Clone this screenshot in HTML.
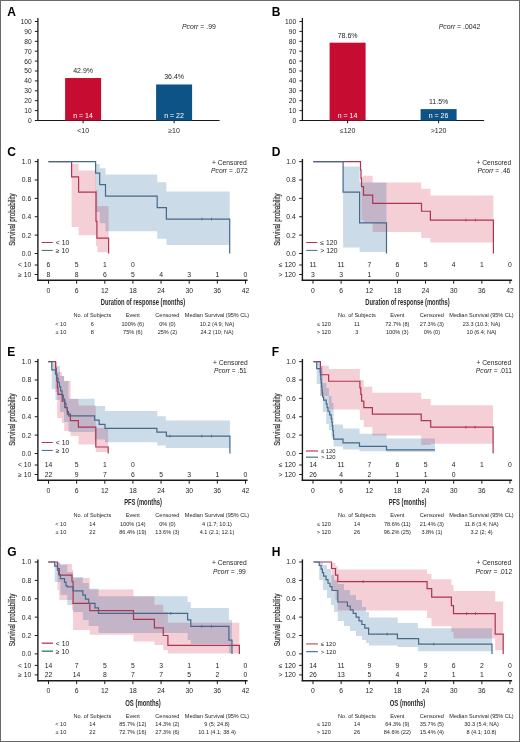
<!DOCTYPE html>
<html><head><meta charset="utf-8"><style>
html,body{margin:0;padding:0;background:#fff;}
svg{display:block;will-change:transform;}
text{font-family:"Liberation Sans", sans-serif;}
</style></head><body>
<svg width="520" height="742" viewBox="0 0 520 742">
<rect x="0" y="0" width="520" height="742" fill="#fff"/>
<text x="7.30" y="15.90" font-size="12" text-anchor="start" font-weight="bold" font-style="normal" fill="#000" >A</text>
<line x1="37.90" y1="18.00" x2="37.90" y2="121.10" stroke="#1a1a1a" stroke-width="1.3"/>
<line x1="34.90" y1="120.50" x2="37.90" y2="120.50" stroke="#1a1a1a" stroke-width="1.0"/>
<text x="31.70" y="122.90" font-size="6.7" text-anchor="end" font-weight="normal" font-style="normal" fill="#1e1e1e" >0</text>
<line x1="34.90" y1="110.60" x2="37.90" y2="110.60" stroke="#1a1a1a" stroke-width="1.0"/>
<text x="31.70" y="113.00" font-size="6.7" text-anchor="end" font-weight="normal" font-style="normal" fill="#1e1e1e" >10</text>
<line x1="34.90" y1="100.70" x2="37.90" y2="100.70" stroke="#1a1a1a" stroke-width="1.0"/>
<text x="31.70" y="103.10" font-size="6.7" text-anchor="end" font-weight="normal" font-style="normal" fill="#1e1e1e" >20</text>
<line x1="34.90" y1="90.80" x2="37.90" y2="90.80" stroke="#1a1a1a" stroke-width="1.0"/>
<text x="31.70" y="93.20" font-size="6.7" text-anchor="end" font-weight="normal" font-style="normal" fill="#1e1e1e" >30</text>
<line x1="34.90" y1="80.90" x2="37.90" y2="80.90" stroke="#1a1a1a" stroke-width="1.0"/>
<text x="31.70" y="83.30" font-size="6.7" text-anchor="end" font-weight="normal" font-style="normal" fill="#1e1e1e" >40</text>
<line x1="34.90" y1="71.00" x2="37.90" y2="71.00" stroke="#1a1a1a" stroke-width="1.0"/>
<text x="31.70" y="73.40" font-size="6.7" text-anchor="end" font-weight="normal" font-style="normal" fill="#1e1e1e" >50</text>
<line x1="34.90" y1="61.10" x2="37.90" y2="61.10" stroke="#1a1a1a" stroke-width="1.0"/>
<text x="31.70" y="63.50" font-size="6.7" text-anchor="end" font-weight="normal" font-style="normal" fill="#1e1e1e" >60</text>
<line x1="34.90" y1="51.20" x2="37.90" y2="51.20" stroke="#1a1a1a" stroke-width="1.0"/>
<text x="31.70" y="53.60" font-size="6.7" text-anchor="end" font-weight="normal" font-style="normal" fill="#1e1e1e" >70</text>
<line x1="34.90" y1="41.30" x2="37.90" y2="41.30" stroke="#1a1a1a" stroke-width="1.0"/>
<text x="31.70" y="43.70" font-size="6.7" text-anchor="end" font-weight="normal" font-style="normal" fill="#1e1e1e" >80</text>
<line x1="34.90" y1="31.40" x2="37.90" y2="31.40" stroke="#1a1a1a" stroke-width="1.0"/>
<text x="31.70" y="33.80" font-size="6.7" text-anchor="end" font-weight="normal" font-style="normal" fill="#1e1e1e" >90</text>
<line x1="34.90" y1="21.50" x2="37.90" y2="21.50" stroke="#1a1a1a" stroke-width="1.0"/>
<text x="31.70" y="23.90" font-size="6.7" text-anchor="end" font-weight="normal" font-style="normal" fill="#1e1e1e" >100</text>
<line x1="37.30" y1="120.50" x2="219.60" y2="120.50" stroke="#1a1a1a" stroke-width="1.2"/>
<rect x="65.10" y="78.03" width="36" height="42.47" fill="#c60c30"/>
<text x="83.10" y="73.03" font-size="7" text-anchor="middle" font-weight="normal" font-style="normal" fill="#1e1e1e" >42.9%</text>
<text x="83.10" y="117.90" font-size="7" text-anchor="middle" font-weight="normal" font-style="normal" fill="#fff" >n = 14</text>
<line x1="83.10" y1="120.50" x2="83.10" y2="123.30" stroke="#1a1a1a" stroke-width="1.0"/>
<text x="83.10" y="133.20" font-size="7" text-anchor="middle" font-weight="normal" font-style="normal" fill="#1e1e1e" >&lt;10</text>
<rect x="156.10" y="84.46" width="36" height="36.04" fill="#0d5386"/>
<text x="174.10" y="79.46" font-size="7" text-anchor="middle" font-weight="normal" font-style="normal" fill="#1e1e1e" >36.4%</text>
<text x="174.10" y="117.90" font-size="7" text-anchor="middle" font-weight="normal" font-style="normal" fill="#fff" >n = 22</text>
<line x1="174.10" y1="120.50" x2="174.10" y2="123.30" stroke="#1a1a1a" stroke-width="1.0"/>
<text x="174.10" y="133.20" font-size="7" text-anchor="middle" font-weight="normal" font-style="normal" fill="#1e1e1e" >&#8805;10</text>
<text x="215.80" y="28.6" font-size="6.9" fill="#1e1e1e" text-anchor="end"><tspan font-style="italic">Pcorr</tspan> = .99</text>
<text x="271.80" y="15.90" font-size="12" text-anchor="start" font-weight="bold" font-style="normal" fill="#000" >B</text>
<line x1="302.40" y1="18.00" x2="302.40" y2="121.10" stroke="#1a1a1a" stroke-width="1.3"/>
<line x1="299.40" y1="120.50" x2="302.40" y2="120.50" stroke="#1a1a1a" stroke-width="1.0"/>
<text x="296.20" y="122.90" font-size="6.7" text-anchor="end" font-weight="normal" font-style="normal" fill="#1e1e1e" >0</text>
<line x1="299.40" y1="110.60" x2="302.40" y2="110.60" stroke="#1a1a1a" stroke-width="1.0"/>
<text x="296.20" y="113.00" font-size="6.7" text-anchor="end" font-weight="normal" font-style="normal" fill="#1e1e1e" >10</text>
<line x1="299.40" y1="100.70" x2="302.40" y2="100.70" stroke="#1a1a1a" stroke-width="1.0"/>
<text x="296.20" y="103.10" font-size="6.7" text-anchor="end" font-weight="normal" font-style="normal" fill="#1e1e1e" >20</text>
<line x1="299.40" y1="90.80" x2="302.40" y2="90.80" stroke="#1a1a1a" stroke-width="1.0"/>
<text x="296.20" y="93.20" font-size="6.7" text-anchor="end" font-weight="normal" font-style="normal" fill="#1e1e1e" >30</text>
<line x1="299.40" y1="80.90" x2="302.40" y2="80.90" stroke="#1a1a1a" stroke-width="1.0"/>
<text x="296.20" y="83.30" font-size="6.7" text-anchor="end" font-weight="normal" font-style="normal" fill="#1e1e1e" >40</text>
<line x1="299.40" y1="71.00" x2="302.40" y2="71.00" stroke="#1a1a1a" stroke-width="1.0"/>
<text x="296.20" y="73.40" font-size="6.7" text-anchor="end" font-weight="normal" font-style="normal" fill="#1e1e1e" >50</text>
<line x1="299.40" y1="61.10" x2="302.40" y2="61.10" stroke="#1a1a1a" stroke-width="1.0"/>
<text x="296.20" y="63.50" font-size="6.7" text-anchor="end" font-weight="normal" font-style="normal" fill="#1e1e1e" >60</text>
<line x1="299.40" y1="51.20" x2="302.40" y2="51.20" stroke="#1a1a1a" stroke-width="1.0"/>
<text x="296.20" y="53.60" font-size="6.7" text-anchor="end" font-weight="normal" font-style="normal" fill="#1e1e1e" >70</text>
<line x1="299.40" y1="41.30" x2="302.40" y2="41.30" stroke="#1a1a1a" stroke-width="1.0"/>
<text x="296.20" y="43.70" font-size="6.7" text-anchor="end" font-weight="normal" font-style="normal" fill="#1e1e1e" >80</text>
<line x1="299.40" y1="31.40" x2="302.40" y2="31.40" stroke="#1a1a1a" stroke-width="1.0"/>
<text x="296.20" y="33.80" font-size="6.7" text-anchor="end" font-weight="normal" font-style="normal" fill="#1e1e1e" >90</text>
<line x1="299.40" y1="21.50" x2="302.40" y2="21.50" stroke="#1a1a1a" stroke-width="1.0"/>
<text x="296.20" y="23.90" font-size="6.7" text-anchor="end" font-weight="normal" font-style="normal" fill="#1e1e1e" >100</text>
<line x1="301.80" y1="120.50" x2="484.10" y2="120.50" stroke="#1a1a1a" stroke-width="1.2"/>
<rect x="329.60" y="42.69" width="36" height="77.81" fill="#c60c30"/>
<text x="347.60" y="37.69" font-size="7" text-anchor="middle" font-weight="normal" font-style="normal" fill="#1e1e1e" >78.6%</text>
<text x="347.60" y="117.90" font-size="7" text-anchor="middle" font-weight="normal" font-style="normal" fill="#fff" >n = 14</text>
<line x1="347.60" y1="120.50" x2="347.60" y2="123.30" stroke="#1a1a1a" stroke-width="1.0"/>
<text x="347.60" y="133.20" font-size="7" text-anchor="middle" font-weight="normal" font-style="normal" fill="#1e1e1e" >&#8804;120</text>
<rect x="420.60" y="109.11" width="36" height="11.39" fill="#0d5386"/>
<text x="438.60" y="104.11" font-size="7" text-anchor="middle" font-weight="normal" font-style="normal" fill="#1e1e1e" >11.5%</text>
<text x="438.60" y="117.90" font-size="7" text-anchor="middle" font-weight="normal" font-style="normal" fill="#fff" >n = 26</text>
<line x1="438.60" y1="120.50" x2="438.60" y2="123.30" stroke="#1a1a1a" stroke-width="1.0"/>
<text x="438.60" y="133.20" font-size="7" text-anchor="middle" font-weight="normal" font-style="normal" fill="#1e1e1e" >&gt;120</text>
<text x="480.30" y="28.6" font-size="6.9" fill="#1e1e1e" text-anchor="end"><tspan font-style="italic">Pcorr</tspan> = .0042</text>
<text x="7.30" y="155.80" font-size="12" text-anchor="start" font-weight="bold" font-style="normal" fill="#000" >C</text>
<path d="M71.60,163.80H78.60V227.00H71.60ZM78.60,170.60H96.00V235.30H78.60ZM96.00,190.00H97.40V246.00H96.00ZM97.40,206.00H108.60V252.30H97.40Z" fill="rgba(205,16,50,0.2)" stroke="none"/>
<path d="M95.60,164.00H99.70V212.00H95.60ZM99.70,168.30H105.50V223.20H99.70ZM105.50,174.60H157.20V231.30H105.50ZM157.20,182.20H166.40V238.70H157.20ZM166.40,191.60H229.70V245.00H166.40Z" fill="rgba(20,90,145,0.22)" stroke="none"/>
<path d="M48.50,161.60H71.60V176.95H78.60V192.20H96.00V221.34H96.90V238.15H108.60V253.50" fill="none" stroke="#ad3452" stroke-width="1.2" stroke-linejoin="miter"/>
<path d="M48.50,161.60H95.60V173.09H99.70V184.57H105.50V196.06H157.20V207.55H166.40V219.04H229.70V253.50" fill="none" stroke="#46698a" stroke-width="1.2" stroke-linejoin="miter"/>
<line x1="202.00" y1="217.74" x2="202.00" y2="220.34" stroke="#46698a" stroke-width="0.9"/>
<line x1="211.50" y1="217.74" x2="211.50" y2="220.34" stroke="#46698a" stroke-width="0.9"/>
<line x1="37.90" y1="159.00" x2="37.90" y2="280.90" stroke="#1a1a1a" stroke-width="1.4"/>
<line x1="34.70" y1="253.50" x2="37.90" y2="253.50" stroke="#1a1a1a" stroke-width="1.0"/>
<text x="31.30" y="255.90" font-size="6.8" text-anchor="end" font-weight="normal" font-style="normal" fill="#1e1e1e" >0.0</text>
<line x1="34.70" y1="235.12" x2="37.90" y2="235.12" stroke="#1a1a1a" stroke-width="1.0"/>
<text x="31.30" y="237.52" font-size="6.8" text-anchor="end" font-weight="normal" font-style="normal" fill="#1e1e1e" >0.2</text>
<line x1="34.70" y1="216.74" x2="37.90" y2="216.74" stroke="#1a1a1a" stroke-width="1.0"/>
<text x="31.30" y="219.14" font-size="6.8" text-anchor="end" font-weight="normal" font-style="normal" fill="#1e1e1e" >0.4</text>
<line x1="34.70" y1="198.36" x2="37.90" y2="198.36" stroke="#1a1a1a" stroke-width="1.0"/>
<text x="31.30" y="200.76" font-size="6.8" text-anchor="end" font-weight="normal" font-style="normal" fill="#1e1e1e" >0.6</text>
<line x1="34.70" y1="179.98" x2="37.90" y2="179.98" stroke="#1a1a1a" stroke-width="1.0"/>
<text x="31.30" y="182.38" font-size="6.8" text-anchor="end" font-weight="normal" font-style="normal" fill="#1e1e1e" >0.8</text>
<line x1="34.70" y1="161.60" x2="37.90" y2="161.60" stroke="#1a1a1a" stroke-width="1.0"/>
<text x="31.30" y="164.00" font-size="6.8" text-anchor="end" font-weight="normal" font-style="normal" fill="#1e1e1e" >1.0</text>
<line x1="34.70" y1="265.00" x2="37.90" y2="265.00" stroke="#1a1a1a" stroke-width="1.0"/>
<text x="31.30" y="267.40" font-size="6.8" text-anchor="end" font-weight="normal" font-style="normal" fill="#1e1e1e" >&lt; 10</text>
<text x="48.50" y="267.40" font-size="6.8" text-anchor="middle" font-weight="normal" font-style="normal" fill="#1e1e1e" >6</text>
<text x="76.64" y="267.40" font-size="6.8" text-anchor="middle" font-weight="normal" font-style="normal" fill="#1e1e1e" >5</text>
<text x="104.78" y="267.40" font-size="6.8" text-anchor="middle" font-weight="normal" font-style="normal" fill="#1e1e1e" >1</text>
<text x="132.92" y="267.40" font-size="6.8" text-anchor="middle" font-weight="normal" font-style="normal" fill="#1e1e1e" >0</text>
<line x1="34.70" y1="274.50" x2="37.90" y2="274.50" stroke="#1a1a1a" stroke-width="1.0"/>
<text x="31.30" y="276.90" font-size="6.8" text-anchor="end" font-weight="normal" font-style="normal" fill="#1e1e1e" >&#8805; 10</text>
<text x="48.50" y="276.90" font-size="6.8" text-anchor="middle" font-weight="normal" font-style="normal" fill="#1e1e1e" >8</text>
<text x="76.64" y="276.90" font-size="6.8" text-anchor="middle" font-weight="normal" font-style="normal" fill="#1e1e1e" >8</text>
<text x="104.78" y="276.90" font-size="6.8" text-anchor="middle" font-weight="normal" font-style="normal" fill="#1e1e1e" >6</text>
<text x="132.92" y="276.90" font-size="6.8" text-anchor="middle" font-weight="normal" font-style="normal" fill="#1e1e1e" >5</text>
<text x="161.06" y="276.90" font-size="6.8" text-anchor="middle" font-weight="normal" font-style="normal" fill="#1e1e1e" >4</text>
<text x="189.20" y="276.90" font-size="6.8" text-anchor="middle" font-weight="normal" font-style="normal" fill="#1e1e1e" >3</text>
<text x="217.34" y="276.90" font-size="6.8" text-anchor="middle" font-weight="normal" font-style="normal" fill="#1e1e1e" >1</text>
<text x="245.48" y="276.90" font-size="6.8" text-anchor="middle" font-weight="normal" font-style="normal" fill="#1e1e1e" >0</text>
<line x1="37.20" y1="280.30" x2="247.60" y2="280.30" stroke="#1a1a1a" stroke-width="1.4"/>
<line x1="48.50" y1="280.30" x2="48.50" y2="283.70" stroke="#1a1a1a" stroke-width="1.0"/>
<text x="48.50" y="292.90" font-size="6.8" text-anchor="middle" font-weight="normal" font-style="normal" fill="#1e1e1e" >0</text>
<line x1="76.64" y1="280.30" x2="76.64" y2="283.70" stroke="#1a1a1a" stroke-width="1.0"/>
<text x="76.64" y="292.90" font-size="6.8" text-anchor="middle" font-weight="normal" font-style="normal" fill="#1e1e1e" >6</text>
<line x1="104.78" y1="280.30" x2="104.78" y2="283.70" stroke="#1a1a1a" stroke-width="1.0"/>
<text x="104.78" y="292.90" font-size="6.8" text-anchor="middle" font-weight="normal" font-style="normal" fill="#1e1e1e" >12</text>
<line x1="132.92" y1="280.30" x2="132.92" y2="283.70" stroke="#1a1a1a" stroke-width="1.0"/>
<text x="132.92" y="292.90" font-size="6.8" text-anchor="middle" font-weight="normal" font-style="normal" fill="#1e1e1e" >18</text>
<line x1="161.06" y1="280.30" x2="161.06" y2="283.70" stroke="#1a1a1a" stroke-width="1.0"/>
<text x="161.06" y="292.90" font-size="6.8" text-anchor="middle" font-weight="normal" font-style="normal" fill="#1e1e1e" >24</text>
<line x1="189.20" y1="280.30" x2="189.20" y2="283.70" stroke="#1a1a1a" stroke-width="1.0"/>
<text x="189.20" y="292.90" font-size="6.8" text-anchor="middle" font-weight="normal" font-style="normal" fill="#1e1e1e" >30</text>
<line x1="217.34" y1="280.30" x2="217.34" y2="283.70" stroke="#1a1a1a" stroke-width="1.0"/>
<text x="217.34" y="292.90" font-size="6.8" text-anchor="middle" font-weight="normal" font-style="normal" fill="#1e1e1e" >36</text>
<line x1="245.48" y1="280.30" x2="245.48" y2="283.70" stroke="#1a1a1a" stroke-width="1.0"/>
<text x="245.48" y="292.90" font-size="6.8" text-anchor="middle" font-weight="normal" font-style="normal" fill="#1e1e1e" >42</text>
<text x="143.00" y="305.20" font-size="9.3" font-weight="bold" text-anchor="middle" fill="#2a2a2a" textLength="84.4" lengthAdjust="spacingAndGlyphs">Duration of response (months)</text>
<text transform="translate(15.40,219.60) rotate(-90)" x="0" y="0" font-size="8.9" font-weight="normal" text-anchor="middle" fill="#333" stroke="#333" stroke-width="0.25" textLength="52.5" lengthAdjust="spacingAndGlyphs">Survival probability</text>
<text x="229.40" y="164.70" font-size="6.7" text-anchor="middle" font-weight="normal" font-style="normal" fill="#1e1e1e" >+ Censored</text>
<text x="229.40" y="173.40" font-size="6.7" fill="#1e1e1e" text-anchor="middle"><tspan font-style="italic">Pcorr</tspan> = .072</text>
<line x1="41.70" y1="242.50" x2="52.80" y2="242.50" stroke="#ad3452" stroke-width="1.0"/>
<line x1="41.70" y1="250.40" x2="52.80" y2="250.40" stroke="#46698a" stroke-width="1.0"/>
<text x="55.80" y="244.90" font-size="6.8" text-anchor="start" font-weight="normal" font-style="normal" fill="#1e1e1e" >&lt; 10</text>
<text x="55.80" y="252.80" font-size="6.8" text-anchor="start" font-weight="normal" font-style="normal" fill="#1e1e1e" >&#8805; 10</text>
<text x="92.40" y="317.10" font-size="5.55" text-anchor="middle" font-weight="normal" font-style="normal" fill="#1e1e1e" >No. of Subjects</text>
<text x="132.80" y="317.10" font-size="5.55" text-anchor="middle" font-weight="normal" font-style="normal" fill="#1e1e1e" >Event</text>
<text x="167.40" y="317.10" font-size="5.55" text-anchor="middle" font-weight="normal" font-style="normal" fill="#1e1e1e" >Censored</text>
<text x="217.00" y="317.10" font-size="5.55" text-anchor="middle" font-weight="normal" font-style="normal" fill="#1e1e1e" >Median Survival (95% CL)</text>
<text x="66.30" y="325.60" font-size="5.55" text-anchor="end" font-weight="normal" font-style="normal" fill="#1e1e1e" >&lt; 10</text>
<text x="92.40" y="325.60" font-size="5.55" text-anchor="middle" font-weight="normal" font-style="normal" fill="#1e1e1e" >6</text>
<text x="132.80" y="325.60" font-size="5.55" text-anchor="middle" font-weight="normal" font-style="normal" fill="#1e1e1e" >100% (6)</text>
<text x="167.40" y="325.60" font-size="5.55" text-anchor="middle" font-weight="normal" font-style="normal" fill="#1e1e1e" >0% (0)</text>
<text x="217.00" y="325.60" font-size="5.55" text-anchor="middle" font-weight="normal" font-style="normal" fill="#1e1e1e" >10.2 (4.9; NA)</text>
<text x="66.30" y="333.60" font-size="5.55" text-anchor="end" font-weight="normal" font-style="normal" fill="#1e1e1e" >&#8805; 10</text>
<text x="92.40" y="333.60" font-size="5.55" text-anchor="middle" font-weight="normal" font-style="normal" fill="#1e1e1e" >8</text>
<text x="132.80" y="333.60" font-size="5.55" text-anchor="middle" font-weight="normal" font-style="normal" fill="#1e1e1e" >75% (6)</text>
<text x="167.40" y="333.60" font-size="5.55" text-anchor="middle" font-weight="normal" font-style="normal" fill="#1e1e1e" >25% (2)</text>
<text x="217.00" y="333.60" font-size="5.55" text-anchor="middle" font-weight="normal" font-style="normal" fill="#1e1e1e" >24.2 (10; NA)</text>
<text x="271.80" y="155.80" font-size="12" text-anchor="start" font-weight="bold" font-style="normal" fill="#000" >D</text>
<path d="M361.50,176.40H363.50V220.00H361.50ZM363.50,175.80H372.70V222.70H363.50ZM372.70,182.40H421.20V231.90H372.70ZM421.20,188.80H430.40V238.00H421.20ZM430.40,195.60H493.40V242.50H430.40Z" fill="rgba(205,16,50,0.2)" stroke="none"/>
<path d="M343.10,166.60H359.60V247.50H343.10ZM359.60,182.40H386.50V252.00H359.60Z" fill="rgba(20,90,145,0.22)" stroke="none"/>
<path d="M313.40,161.60H360.50V169.96H361.00V178.33H361.50V186.69H363.50V195.05H372.70V203.41H421.50V211.23H430.40V220.05H493.40V253.50" fill="none" stroke="#ad3452" stroke-width="1.2" stroke-linejoin="miter"/>
<path d="M313.40,161.60H343.10V192.20H359.60V222.90H386.50V253.50" fill="none" stroke="#46698a" stroke-width="1.2" stroke-linejoin="miter"/>
<line x1="466.00" y1="218.75" x2="466.00" y2="221.35" stroke="#ad3452" stroke-width="0.9"/>
<line x1="475.40" y1="218.75" x2="475.40" y2="221.35" stroke="#ad3452" stroke-width="0.9"/>
<line x1="302.40" y1="159.00" x2="302.40" y2="280.90" stroke="#1a1a1a" stroke-width="1.4"/>
<line x1="299.20" y1="253.50" x2="302.40" y2="253.50" stroke="#1a1a1a" stroke-width="1.0"/>
<text x="295.80" y="255.90" font-size="6.8" text-anchor="end" font-weight="normal" font-style="normal" fill="#1e1e1e" >0.0</text>
<line x1="299.20" y1="235.12" x2="302.40" y2="235.12" stroke="#1a1a1a" stroke-width="1.0"/>
<text x="295.80" y="237.52" font-size="6.8" text-anchor="end" font-weight="normal" font-style="normal" fill="#1e1e1e" >0.2</text>
<line x1="299.20" y1="216.74" x2="302.40" y2="216.74" stroke="#1a1a1a" stroke-width="1.0"/>
<text x="295.80" y="219.14" font-size="6.8" text-anchor="end" font-weight="normal" font-style="normal" fill="#1e1e1e" >0.4</text>
<line x1="299.20" y1="198.36" x2="302.40" y2="198.36" stroke="#1a1a1a" stroke-width="1.0"/>
<text x="295.80" y="200.76" font-size="6.8" text-anchor="end" font-weight="normal" font-style="normal" fill="#1e1e1e" >0.6</text>
<line x1="299.20" y1="179.98" x2="302.40" y2="179.98" stroke="#1a1a1a" stroke-width="1.0"/>
<text x="295.80" y="182.38" font-size="6.8" text-anchor="end" font-weight="normal" font-style="normal" fill="#1e1e1e" >0.8</text>
<line x1="299.20" y1="161.60" x2="302.40" y2="161.60" stroke="#1a1a1a" stroke-width="1.0"/>
<text x="295.80" y="164.00" font-size="6.8" text-anchor="end" font-weight="normal" font-style="normal" fill="#1e1e1e" >1.0</text>
<line x1="299.20" y1="265.00" x2="302.40" y2="265.00" stroke="#1a1a1a" stroke-width="1.0"/>
<text x="295.80" y="267.40" font-size="6.8" text-anchor="end" font-weight="normal" font-style="normal" fill="#1e1e1e" >&#8804; 120</text>
<text x="313.00" y="267.40" font-size="6.8" text-anchor="middle" font-weight="normal" font-style="normal" fill="#1e1e1e" >11</text>
<text x="341.14" y="267.40" font-size="6.8" text-anchor="middle" font-weight="normal" font-style="normal" fill="#1e1e1e" >11</text>
<text x="369.28" y="267.40" font-size="6.8" text-anchor="middle" font-weight="normal" font-style="normal" fill="#1e1e1e" >7</text>
<text x="397.42" y="267.40" font-size="6.8" text-anchor="middle" font-weight="normal" font-style="normal" fill="#1e1e1e" >6</text>
<text x="425.56" y="267.40" font-size="6.8" text-anchor="middle" font-weight="normal" font-style="normal" fill="#1e1e1e" >5</text>
<text x="453.70" y="267.40" font-size="6.8" text-anchor="middle" font-weight="normal" font-style="normal" fill="#1e1e1e" >4</text>
<text x="481.84" y="267.40" font-size="6.8" text-anchor="middle" font-weight="normal" font-style="normal" fill="#1e1e1e" >1</text>
<text x="509.98" y="267.40" font-size="6.8" text-anchor="middle" font-weight="normal" font-style="normal" fill="#1e1e1e" >0</text>
<line x1="299.20" y1="274.50" x2="302.40" y2="274.50" stroke="#1a1a1a" stroke-width="1.0"/>
<text x="295.80" y="276.90" font-size="6.8" text-anchor="end" font-weight="normal" font-style="normal" fill="#1e1e1e" >&gt; 120</text>
<text x="313.00" y="276.90" font-size="6.8" text-anchor="middle" font-weight="normal" font-style="normal" fill="#1e1e1e" >3</text>
<text x="341.14" y="276.90" font-size="6.8" text-anchor="middle" font-weight="normal" font-style="normal" fill="#1e1e1e" >3</text>
<text x="369.28" y="276.90" font-size="6.8" text-anchor="middle" font-weight="normal" font-style="normal" fill="#1e1e1e" >1</text>
<text x="397.42" y="276.90" font-size="6.8" text-anchor="middle" font-weight="normal" font-style="normal" fill="#1e1e1e" >0</text>
<line x1="301.70" y1="280.30" x2="512.10" y2="280.30" stroke="#1a1a1a" stroke-width="1.4"/>
<line x1="313.00" y1="280.30" x2="313.00" y2="283.70" stroke="#1a1a1a" stroke-width="1.0"/>
<text x="313.00" y="292.90" font-size="6.8" text-anchor="middle" font-weight="normal" font-style="normal" fill="#1e1e1e" >0</text>
<line x1="341.14" y1="280.30" x2="341.14" y2="283.70" stroke="#1a1a1a" stroke-width="1.0"/>
<text x="341.14" y="292.90" font-size="6.8" text-anchor="middle" font-weight="normal" font-style="normal" fill="#1e1e1e" >6</text>
<line x1="369.28" y1="280.30" x2="369.28" y2="283.70" stroke="#1a1a1a" stroke-width="1.0"/>
<text x="369.28" y="292.90" font-size="6.8" text-anchor="middle" font-weight="normal" font-style="normal" fill="#1e1e1e" >12</text>
<line x1="397.42" y1="280.30" x2="397.42" y2="283.70" stroke="#1a1a1a" stroke-width="1.0"/>
<text x="397.42" y="292.90" font-size="6.8" text-anchor="middle" font-weight="normal" font-style="normal" fill="#1e1e1e" >18</text>
<line x1="425.56" y1="280.30" x2="425.56" y2="283.70" stroke="#1a1a1a" stroke-width="1.0"/>
<text x="425.56" y="292.90" font-size="6.8" text-anchor="middle" font-weight="normal" font-style="normal" fill="#1e1e1e" >24</text>
<line x1="453.70" y1="280.30" x2="453.70" y2="283.70" stroke="#1a1a1a" stroke-width="1.0"/>
<text x="453.70" y="292.90" font-size="6.8" text-anchor="middle" font-weight="normal" font-style="normal" fill="#1e1e1e" >30</text>
<line x1="481.84" y1="280.30" x2="481.84" y2="283.70" stroke="#1a1a1a" stroke-width="1.0"/>
<text x="481.84" y="292.90" font-size="6.8" text-anchor="middle" font-weight="normal" font-style="normal" fill="#1e1e1e" >36</text>
<line x1="509.98" y1="280.30" x2="509.98" y2="283.70" stroke="#1a1a1a" stroke-width="1.0"/>
<text x="509.98" y="292.90" font-size="6.8" text-anchor="middle" font-weight="normal" font-style="normal" fill="#1e1e1e" >42</text>
<text x="407.50" y="305.20" font-size="9.3" font-weight="bold" text-anchor="middle" fill="#2a2a2a" textLength="84.4" lengthAdjust="spacingAndGlyphs">Duration of response (months)</text>
<text transform="translate(279.90,219.60) rotate(-90)" x="0" y="0" font-size="8.9" font-weight="normal" text-anchor="middle" fill="#333" stroke="#333" stroke-width="0.25" textLength="52.5" lengthAdjust="spacingAndGlyphs">Survival probability</text>
<text x="493.90" y="164.70" font-size="6.7" text-anchor="middle" font-weight="normal" font-style="normal" fill="#1e1e1e" >+ Censored</text>
<text x="493.90" y="173.40" font-size="6.7" fill="#1e1e1e" text-anchor="middle"><tspan font-style="italic">Pcorr</tspan> = .46</text>
<line x1="306.20" y1="242.50" x2="317.30" y2="242.50" stroke="#ad3452" stroke-width="1.0"/>
<line x1="306.20" y1="250.40" x2="317.30" y2="250.40" stroke="#46698a" stroke-width="1.0"/>
<text x="320.30" y="244.90" font-size="6.8" text-anchor="start" font-weight="normal" font-style="normal" fill="#1e1e1e" >&#8804; 120</text>
<text x="320.30" y="252.80" font-size="6.8" text-anchor="start" font-weight="normal" font-style="normal" fill="#1e1e1e" >&gt; 120</text>
<text x="356.90" y="317.10" font-size="5.55" text-anchor="middle" font-weight="normal" font-style="normal" fill="#1e1e1e" >No. of Subjects</text>
<text x="397.30" y="317.10" font-size="5.55" text-anchor="middle" font-weight="normal" font-style="normal" fill="#1e1e1e" >Event</text>
<text x="431.90" y="317.10" font-size="5.55" text-anchor="middle" font-weight="normal" font-style="normal" fill="#1e1e1e" >Censored</text>
<text x="481.50" y="317.10" font-size="5.55" text-anchor="middle" font-weight="normal" font-style="normal" fill="#1e1e1e" >Median Survival (95% CL)</text>
<text x="330.80" y="325.60" font-size="5.55" text-anchor="end" font-weight="normal" font-style="normal" fill="#1e1e1e" >&#8804; 120</text>
<text x="356.90" y="325.60" font-size="5.55" text-anchor="middle" font-weight="normal" font-style="normal" fill="#1e1e1e" >11</text>
<text x="397.30" y="325.60" font-size="5.55" text-anchor="middle" font-weight="normal" font-style="normal" fill="#1e1e1e" >72.7% (8)</text>
<text x="431.90" y="325.60" font-size="5.55" text-anchor="middle" font-weight="normal" font-style="normal" fill="#1e1e1e" >27.3% (3)</text>
<text x="481.50" y="325.60" font-size="5.55" text-anchor="middle" font-weight="normal" font-style="normal" fill="#1e1e1e" >23.3 (10.3; NA)</text>
<text x="330.80" y="333.60" font-size="5.55" text-anchor="end" font-weight="normal" font-style="normal" fill="#1e1e1e" >&gt; 120</text>
<text x="356.90" y="333.60" font-size="5.55" text-anchor="middle" font-weight="normal" font-style="normal" fill="#1e1e1e" >3</text>
<text x="397.30" y="333.60" font-size="5.55" text-anchor="middle" font-weight="normal" font-style="normal" fill="#1e1e1e" >100% (3)</text>
<text x="431.90" y="333.60" font-size="5.55" text-anchor="middle" font-weight="normal" font-style="normal" fill="#1e1e1e" >0% (0)</text>
<text x="481.50" y="333.60" font-size="5.55" text-anchor="middle" font-weight="normal" font-style="normal" fill="#1e1e1e" >10 (6.4; NA)</text>
<text x="7.30" y="355.80" font-size="12" text-anchor="start" font-weight="bold" font-style="normal" fill="#000" >E</text>
<path d="M55.50,362.00H57.20V392.00H55.50ZM57.20,372.00H62.00V418.00H57.20ZM62.00,376.00H64.20V423.00H62.00ZM64.20,381.00H70.60V431.00H64.20ZM70.60,399.00H78.50V436.00H70.60ZM78.50,405.40H95.80V444.40H78.50ZM95.80,428.00H108.20V452.00H95.80Z" fill="rgba(205,16,50,0.2)" stroke="none"/>
<path d="M51.80,362.50H55.50V389.00H51.80ZM55.50,366.00H60.00V400.00H55.50ZM60.00,376.00H64.00V412.00H60.00ZM64.00,381.00H68.50V422.00H64.00ZM68.50,398.80H94.60V432.00H68.50ZM94.60,406.00H105.00V439.60H94.60ZM105.00,411.00H157.30V442.20H105.00ZM157.30,416.30H165.80V445.50H157.30ZM165.80,420.60H229.90V448.00H165.80Z" fill="rgba(20,90,145,0.22)" stroke="none"/>
<path d="M48.40,361.60H55.60V368.12H56.20V374.74H56.80V381.27H57.40V387.88H58.00V394.41H62.20V401.03H64.80V407.55H67.40V414.07H70.40V420.69H78.40V427.22H95.80V446.98H108.20V453.50" fill="none" stroke="#ad3452" stroke-width="1.2" stroke-linejoin="miter"/>
<path d="M48.20,361.60H51.80V369.96H55.50V374.13H56.80V378.30H58.10V382.47H59.40V386.64H60.70V390.81H62.00V394.98H63.30V399.15H64.60V403.31H65.90V407.48H67.20V411.65H68.50V415.82H94.60V420.05H99.20V424.28H105.00V428.41H156.90V432.18H166.40V436.04H229.90V453.50" fill="none" stroke="#46698a" stroke-width="1.2" stroke-linejoin="miter"/>
<line x1="170.00" y1="434.74" x2="170.00" y2="437.34" stroke="#46698a" stroke-width="0.9"/>
<line x1="201.80" y1="434.74" x2="201.80" y2="437.34" stroke="#46698a" stroke-width="0.9"/>
<line x1="211.50" y1="434.74" x2="211.50" y2="437.34" stroke="#46698a" stroke-width="0.9"/>
<line x1="37.90" y1="359.00" x2="37.90" y2="480.90" stroke="#1a1a1a" stroke-width="1.4"/>
<line x1="34.70" y1="453.50" x2="37.90" y2="453.50" stroke="#1a1a1a" stroke-width="1.0"/>
<text x="31.30" y="455.90" font-size="6.8" text-anchor="end" font-weight="normal" font-style="normal" fill="#1e1e1e" >0.0</text>
<line x1="34.70" y1="435.12" x2="37.90" y2="435.12" stroke="#1a1a1a" stroke-width="1.0"/>
<text x="31.30" y="437.52" font-size="6.8" text-anchor="end" font-weight="normal" font-style="normal" fill="#1e1e1e" >0.2</text>
<line x1="34.70" y1="416.74" x2="37.90" y2="416.74" stroke="#1a1a1a" stroke-width="1.0"/>
<text x="31.30" y="419.14" font-size="6.8" text-anchor="end" font-weight="normal" font-style="normal" fill="#1e1e1e" >0.4</text>
<line x1="34.70" y1="398.36" x2="37.90" y2="398.36" stroke="#1a1a1a" stroke-width="1.0"/>
<text x="31.30" y="400.76" font-size="6.8" text-anchor="end" font-weight="normal" font-style="normal" fill="#1e1e1e" >0.6</text>
<line x1="34.70" y1="379.98" x2="37.90" y2="379.98" stroke="#1a1a1a" stroke-width="1.0"/>
<text x="31.30" y="382.38" font-size="6.8" text-anchor="end" font-weight="normal" font-style="normal" fill="#1e1e1e" >0.8</text>
<line x1="34.70" y1="361.60" x2="37.90" y2="361.60" stroke="#1a1a1a" stroke-width="1.0"/>
<text x="31.30" y="364.00" font-size="6.8" text-anchor="end" font-weight="normal" font-style="normal" fill="#1e1e1e" >1.0</text>
<line x1="34.70" y1="465.00" x2="37.90" y2="465.00" stroke="#1a1a1a" stroke-width="1.0"/>
<text x="31.30" y="467.40" font-size="6.8" text-anchor="end" font-weight="normal" font-style="normal" fill="#1e1e1e" >&lt; 10</text>
<text x="48.50" y="467.40" font-size="6.8" text-anchor="middle" font-weight="normal" font-style="normal" fill="#1e1e1e" >14</text>
<text x="76.64" y="467.40" font-size="6.8" text-anchor="middle" font-weight="normal" font-style="normal" fill="#1e1e1e" >5</text>
<text x="104.78" y="467.40" font-size="6.8" text-anchor="middle" font-weight="normal" font-style="normal" fill="#1e1e1e" >1</text>
<text x="132.92" y="467.40" font-size="6.8" text-anchor="middle" font-weight="normal" font-style="normal" fill="#1e1e1e" >0</text>
<line x1="34.70" y1="474.50" x2="37.90" y2="474.50" stroke="#1a1a1a" stroke-width="1.0"/>
<text x="31.30" y="476.90" font-size="6.8" text-anchor="end" font-weight="normal" font-style="normal" fill="#1e1e1e" >&#8805; 10</text>
<text x="48.50" y="476.90" font-size="6.8" text-anchor="middle" font-weight="normal" font-style="normal" fill="#1e1e1e" >22</text>
<text x="76.64" y="476.90" font-size="6.8" text-anchor="middle" font-weight="normal" font-style="normal" fill="#1e1e1e" >9</text>
<text x="104.78" y="476.90" font-size="6.8" text-anchor="middle" font-weight="normal" font-style="normal" fill="#1e1e1e" >7</text>
<text x="132.92" y="476.90" font-size="6.8" text-anchor="middle" font-weight="normal" font-style="normal" fill="#1e1e1e" >6</text>
<text x="161.06" y="476.90" font-size="6.8" text-anchor="middle" font-weight="normal" font-style="normal" fill="#1e1e1e" >5</text>
<text x="189.20" y="476.90" font-size="6.8" text-anchor="middle" font-weight="normal" font-style="normal" fill="#1e1e1e" >3</text>
<text x="217.34" y="476.90" font-size="6.8" text-anchor="middle" font-weight="normal" font-style="normal" fill="#1e1e1e" >1</text>
<text x="245.48" y="476.90" font-size="6.8" text-anchor="middle" font-weight="normal" font-style="normal" fill="#1e1e1e" >0</text>
<line x1="37.20" y1="480.30" x2="247.60" y2="480.30" stroke="#1a1a1a" stroke-width="1.4"/>
<line x1="48.50" y1="480.30" x2="48.50" y2="483.70" stroke="#1a1a1a" stroke-width="1.0"/>
<text x="48.50" y="492.90" font-size="6.8" text-anchor="middle" font-weight="normal" font-style="normal" fill="#1e1e1e" >0</text>
<line x1="76.64" y1="480.30" x2="76.64" y2="483.70" stroke="#1a1a1a" stroke-width="1.0"/>
<text x="76.64" y="492.90" font-size="6.8" text-anchor="middle" font-weight="normal" font-style="normal" fill="#1e1e1e" >6</text>
<line x1="104.78" y1="480.30" x2="104.78" y2="483.70" stroke="#1a1a1a" stroke-width="1.0"/>
<text x="104.78" y="492.90" font-size="6.8" text-anchor="middle" font-weight="normal" font-style="normal" fill="#1e1e1e" >12</text>
<line x1="132.92" y1="480.30" x2="132.92" y2="483.70" stroke="#1a1a1a" stroke-width="1.0"/>
<text x="132.92" y="492.90" font-size="6.8" text-anchor="middle" font-weight="normal" font-style="normal" fill="#1e1e1e" >18</text>
<line x1="161.06" y1="480.30" x2="161.06" y2="483.70" stroke="#1a1a1a" stroke-width="1.0"/>
<text x="161.06" y="492.90" font-size="6.8" text-anchor="middle" font-weight="normal" font-style="normal" fill="#1e1e1e" >24</text>
<line x1="189.20" y1="480.30" x2="189.20" y2="483.70" stroke="#1a1a1a" stroke-width="1.0"/>
<text x="189.20" y="492.90" font-size="6.8" text-anchor="middle" font-weight="normal" font-style="normal" fill="#1e1e1e" >30</text>
<line x1="217.34" y1="480.30" x2="217.34" y2="483.70" stroke="#1a1a1a" stroke-width="1.0"/>
<text x="217.34" y="492.90" font-size="6.8" text-anchor="middle" font-weight="normal" font-style="normal" fill="#1e1e1e" >36</text>
<line x1="245.48" y1="480.30" x2="245.48" y2="483.70" stroke="#1a1a1a" stroke-width="1.0"/>
<text x="245.48" y="492.90" font-size="6.8" text-anchor="middle" font-weight="normal" font-style="normal" fill="#1e1e1e" >42</text>
<text x="143.00" y="505.20" font-size="9.3" font-weight="bold" text-anchor="middle" fill="#2a2a2a" textLength="37.7" lengthAdjust="spacingAndGlyphs">PFS (months)</text>
<text transform="translate(15.40,419.60) rotate(-90)" x="0" y="0" font-size="8.9" font-weight="normal" text-anchor="middle" fill="#333" stroke="#333" stroke-width="0.25" textLength="52.5" lengthAdjust="spacingAndGlyphs">Survival probability</text>
<text x="230.40" y="364.70" font-size="6.7" text-anchor="middle" font-weight="normal" font-style="normal" fill="#1e1e1e" >+ Censored</text>
<text x="230.40" y="373.40" font-size="6.7" fill="#1e1e1e" text-anchor="middle"><tspan font-style="italic">Pcorr</tspan> = .51</text>
<line x1="41.70" y1="442.50" x2="52.80" y2="442.50" stroke="#ad3452" stroke-width="1.0"/>
<line x1="41.70" y1="450.40" x2="52.80" y2="450.40" stroke="#46698a" stroke-width="1.0"/>
<text x="55.80" y="444.90" font-size="6.8" text-anchor="start" font-weight="normal" font-style="normal" fill="#1e1e1e" >&lt; 10</text>
<text x="55.80" y="452.80" font-size="6.8" text-anchor="start" font-weight="normal" font-style="normal" fill="#1e1e1e" >&#8805; 10</text>
<text x="92.40" y="517.10" font-size="5.55" text-anchor="middle" font-weight="normal" font-style="normal" fill="#1e1e1e" >No. of Subjects</text>
<text x="132.80" y="517.10" font-size="5.55" text-anchor="middle" font-weight="normal" font-style="normal" fill="#1e1e1e" >Event</text>
<text x="167.40" y="517.10" font-size="5.55" text-anchor="middle" font-weight="normal" font-style="normal" fill="#1e1e1e" >Censored</text>
<text x="217.00" y="517.10" font-size="5.55" text-anchor="middle" font-weight="normal" font-style="normal" fill="#1e1e1e" >Median Survival (95% CL)</text>
<text x="66.30" y="525.60" font-size="5.55" text-anchor="end" font-weight="normal" font-style="normal" fill="#1e1e1e" >&lt; 10</text>
<text x="92.40" y="525.60" font-size="5.55" text-anchor="middle" font-weight="normal" font-style="normal" fill="#1e1e1e" >14</text>
<text x="132.80" y="525.60" font-size="5.55" text-anchor="middle" font-weight="normal" font-style="normal" fill="#1e1e1e" >100% (14)</text>
<text x="167.40" y="525.60" font-size="5.55" text-anchor="middle" font-weight="normal" font-style="normal" fill="#1e1e1e" >0% (0)</text>
<text x="217.00" y="525.60" font-size="5.55" text-anchor="middle" font-weight="normal" font-style="normal" fill="#1e1e1e" >4 (1.7; 10.1)</text>
<text x="66.30" y="533.60" font-size="5.55" text-anchor="end" font-weight="normal" font-style="normal" fill="#1e1e1e" >&#8805; 10</text>
<text x="92.40" y="533.60" font-size="5.55" text-anchor="middle" font-weight="normal" font-style="normal" fill="#1e1e1e" >22</text>
<text x="132.80" y="533.60" font-size="5.55" text-anchor="middle" font-weight="normal" font-style="normal" fill="#1e1e1e" >86.4% (19)</text>
<text x="167.40" y="533.60" font-size="5.55" text-anchor="middle" font-weight="normal" font-style="normal" fill="#1e1e1e" >13.6% (3)</text>
<text x="217.00" y="533.60" font-size="5.55" text-anchor="middle" font-weight="normal" font-style="normal" fill="#1e1e1e" >4.1 (2.1; 12.1)</text>
<text x="271.80" y="355.80" font-size="12" text-anchor="start" font-weight="bold" font-style="normal" fill="#000" >F</text>
<path d="M320.50,365.80H328.90V396.00H320.50ZM328.90,369.10H359.90V409.60H328.90ZM359.90,380.00H363.80V420.00H359.90ZM363.80,386.70H372.40V427.00H363.80ZM372.40,392.80H421.20V435.50H372.40ZM421.20,399.00H430.70V445.00H421.20ZM430.70,405.30H493.10V443.80H430.70Z" fill="rgba(205,16,50,0.2)" stroke="none"/>
<path d="M316.70,362.00H320.10V384.00H316.70ZM320.10,366.00H322.80V396.00H320.10ZM322.80,383.00H326.20V412.00H322.80ZM326.20,388.00H328.90V424.00H326.20ZM328.90,396.00H331.60V430.00H328.90ZM331.60,403.00H333.60V438.00H331.60ZM333.60,424.40H343.00V446.60H333.60ZM343.00,428.40H359.50V449.50H343.00ZM359.50,433.80H386.50V451.20H359.50ZM386.50,438.60H434.90V452.00H386.50Z" fill="rgba(20,90,145,0.22)" stroke="none"/>
<path d="M313.60,361.60H320.40V368.12H320.80V374.74H328.60V381.27H359.90V387.88H360.80V394.41H361.60V401.03H363.80V407.55H372.40V414.07H421.20V420.69H430.70V427.22H493.10V453.50" fill="none" stroke="#ad3452" stroke-width="1.2" stroke-linejoin="miter"/>
<path d="M313.40,361.60H316.70V368.68H320.10V372.21H320.46V375.75H320.81V379.29H321.17V382.83H321.53V386.37H321.89V389.91H322.24V393.44H322.60V396.98H323.60V400.20H326.20V403.87H327.10V407.55H328.00V411.23H329.60V414.90H331.20V418.58H331.80V422.25H332.30V425.93H332.80V430.52H333.30V435.12H333.70V439.16H343.00V442.93H359.50V446.42H386.50V449.82H434.90" fill="none" stroke="#46698a" stroke-width="1.2" stroke-linejoin="miter"/>
<line x1="466.00" y1="425.92" x2="466.00" y2="428.52" stroke="#ad3452" stroke-width="0.9"/>
<line x1="475.10" y1="425.92" x2="475.10" y2="428.52" stroke="#ad3452" stroke-width="0.9"/>
<line x1="302.40" y1="359.00" x2="302.40" y2="480.90" stroke="#1a1a1a" stroke-width="1.4"/>
<line x1="299.20" y1="453.50" x2="302.40" y2="453.50" stroke="#1a1a1a" stroke-width="1.0"/>
<text x="295.80" y="455.90" font-size="6.8" text-anchor="end" font-weight="normal" font-style="normal" fill="#1e1e1e" >0.0</text>
<line x1="299.20" y1="435.12" x2="302.40" y2="435.12" stroke="#1a1a1a" stroke-width="1.0"/>
<text x="295.80" y="437.52" font-size="6.8" text-anchor="end" font-weight="normal" font-style="normal" fill="#1e1e1e" >0.2</text>
<line x1="299.20" y1="416.74" x2="302.40" y2="416.74" stroke="#1a1a1a" stroke-width="1.0"/>
<text x="295.80" y="419.14" font-size="6.8" text-anchor="end" font-weight="normal" font-style="normal" fill="#1e1e1e" >0.4</text>
<line x1="299.20" y1="398.36" x2="302.40" y2="398.36" stroke="#1a1a1a" stroke-width="1.0"/>
<text x="295.80" y="400.76" font-size="6.8" text-anchor="end" font-weight="normal" font-style="normal" fill="#1e1e1e" >0.6</text>
<line x1="299.20" y1="379.98" x2="302.40" y2="379.98" stroke="#1a1a1a" stroke-width="1.0"/>
<text x="295.80" y="382.38" font-size="6.8" text-anchor="end" font-weight="normal" font-style="normal" fill="#1e1e1e" >0.8</text>
<line x1="299.20" y1="361.60" x2="302.40" y2="361.60" stroke="#1a1a1a" stroke-width="1.0"/>
<text x="295.80" y="364.00" font-size="6.8" text-anchor="end" font-weight="normal" font-style="normal" fill="#1e1e1e" >1.0</text>
<line x1="299.20" y1="465.00" x2="302.40" y2="465.00" stroke="#1a1a1a" stroke-width="1.0"/>
<text x="295.80" y="467.40" font-size="6.8" text-anchor="end" font-weight="normal" font-style="normal" fill="#1e1e1e" >&#8804; 120</text>
<text x="313.00" y="467.40" font-size="6.8" text-anchor="middle" font-weight="normal" font-style="normal" fill="#1e1e1e" >14</text>
<text x="341.14" y="467.40" font-size="6.8" text-anchor="middle" font-weight="normal" font-style="normal" fill="#1e1e1e" >11</text>
<text x="369.28" y="467.40" font-size="6.8" text-anchor="middle" font-weight="normal" font-style="normal" fill="#1e1e1e" >7</text>
<text x="397.42" y="467.40" font-size="6.8" text-anchor="middle" font-weight="normal" font-style="normal" fill="#1e1e1e" >6</text>
<text x="425.56" y="467.40" font-size="6.8" text-anchor="middle" font-weight="normal" font-style="normal" fill="#1e1e1e" >5</text>
<text x="453.70" y="467.40" font-size="6.8" text-anchor="middle" font-weight="normal" font-style="normal" fill="#1e1e1e" >4</text>
<text x="481.84" y="467.40" font-size="6.8" text-anchor="middle" font-weight="normal" font-style="normal" fill="#1e1e1e" >1</text>
<text x="509.98" y="467.40" font-size="6.8" text-anchor="middle" font-weight="normal" font-style="normal" fill="#1e1e1e" >0</text>
<line x1="299.20" y1="474.50" x2="302.40" y2="474.50" stroke="#1a1a1a" stroke-width="1.0"/>
<text x="295.80" y="476.90" font-size="6.8" text-anchor="end" font-weight="normal" font-style="normal" fill="#1e1e1e" >&gt; 120</text>
<text x="313.00" y="476.90" font-size="6.8" text-anchor="middle" font-weight="normal" font-style="normal" fill="#1e1e1e" >26</text>
<text x="341.14" y="476.90" font-size="6.8" text-anchor="middle" font-weight="normal" font-style="normal" fill="#1e1e1e" >4</text>
<text x="369.28" y="476.90" font-size="6.8" text-anchor="middle" font-weight="normal" font-style="normal" fill="#1e1e1e" >2</text>
<text x="397.42" y="476.90" font-size="6.8" text-anchor="middle" font-weight="normal" font-style="normal" fill="#1e1e1e" >1</text>
<text x="425.56" y="476.90" font-size="6.8" text-anchor="middle" font-weight="normal" font-style="normal" fill="#1e1e1e" >1</text>
<text x="453.70" y="476.90" font-size="6.8" text-anchor="middle" font-weight="normal" font-style="normal" fill="#1e1e1e" >0</text>
<line x1="301.70" y1="480.30" x2="512.10" y2="480.30" stroke="#1a1a1a" stroke-width="1.4"/>
<line x1="313.00" y1="480.30" x2="313.00" y2="483.70" stroke="#1a1a1a" stroke-width="1.0"/>
<text x="313.00" y="492.90" font-size="6.8" text-anchor="middle" font-weight="normal" font-style="normal" fill="#1e1e1e" >0</text>
<line x1="341.14" y1="480.30" x2="341.14" y2="483.70" stroke="#1a1a1a" stroke-width="1.0"/>
<text x="341.14" y="492.90" font-size="6.8" text-anchor="middle" font-weight="normal" font-style="normal" fill="#1e1e1e" >6</text>
<line x1="369.28" y1="480.30" x2="369.28" y2="483.70" stroke="#1a1a1a" stroke-width="1.0"/>
<text x="369.28" y="492.90" font-size="6.8" text-anchor="middle" font-weight="normal" font-style="normal" fill="#1e1e1e" >12</text>
<line x1="397.42" y1="480.30" x2="397.42" y2="483.70" stroke="#1a1a1a" stroke-width="1.0"/>
<text x="397.42" y="492.90" font-size="6.8" text-anchor="middle" font-weight="normal" font-style="normal" fill="#1e1e1e" >18</text>
<line x1="425.56" y1="480.30" x2="425.56" y2="483.70" stroke="#1a1a1a" stroke-width="1.0"/>
<text x="425.56" y="492.90" font-size="6.8" text-anchor="middle" font-weight="normal" font-style="normal" fill="#1e1e1e" >24</text>
<line x1="453.70" y1="480.30" x2="453.70" y2="483.70" stroke="#1a1a1a" stroke-width="1.0"/>
<text x="453.70" y="492.90" font-size="6.8" text-anchor="middle" font-weight="normal" font-style="normal" fill="#1e1e1e" >30</text>
<line x1="481.84" y1="480.30" x2="481.84" y2="483.70" stroke="#1a1a1a" stroke-width="1.0"/>
<text x="481.84" y="492.90" font-size="6.8" text-anchor="middle" font-weight="normal" font-style="normal" fill="#1e1e1e" >36</text>
<line x1="509.98" y1="480.30" x2="509.98" y2="483.70" stroke="#1a1a1a" stroke-width="1.0"/>
<text x="509.98" y="492.90" font-size="6.8" text-anchor="middle" font-weight="normal" font-style="normal" fill="#1e1e1e" >42</text>
<text x="407.50" y="505.20" font-size="9.3" font-weight="bold" text-anchor="middle" fill="#2a2a2a" textLength="37.7" lengthAdjust="spacingAndGlyphs">PFS (months)</text>
<text transform="translate(279.90,419.60) rotate(-90)" x="0" y="0" font-size="8.9" font-weight="normal" text-anchor="middle" fill="#333" stroke="#333" stroke-width="0.25" textLength="52.5" lengthAdjust="spacingAndGlyphs">Survival probability</text>
<text x="493.90" y="364.70" font-size="6.7" text-anchor="middle" font-weight="normal" font-style="normal" fill="#1e1e1e" >+ Censored</text>
<text x="493.90" y="373.40" font-size="6.7" fill="#1e1e1e" text-anchor="middle"><tspan font-style="italic">Pcorr</tspan> = .011</text>
<line x1="306.00" y1="451.00" x2="318.00" y2="451.00" stroke="#c4456a" stroke-width="1.3"/>
<line x1="306.00" y1="457.20" x2="318.00" y2="457.20" stroke="#4a8582" stroke-width="1.3"/>
<text x="320.90" y="453.00" font-size="5.8" text-anchor="start" font-weight="normal" font-style="normal" fill="#1e1e1e" >&#8804; 120</text>
<text x="320.90" y="459.20" font-size="5.8" text-anchor="start" font-weight="normal" font-style="normal" fill="#1e1e1e" >&gt; 120</text>
<text x="356.90" y="517.10" font-size="5.55" text-anchor="middle" font-weight="normal" font-style="normal" fill="#1e1e1e" >No. of Subjects</text>
<text x="397.30" y="517.10" font-size="5.55" text-anchor="middle" font-weight="normal" font-style="normal" fill="#1e1e1e" >Event</text>
<text x="431.90" y="517.10" font-size="5.55" text-anchor="middle" font-weight="normal" font-style="normal" fill="#1e1e1e" >Censored</text>
<text x="481.50" y="517.10" font-size="5.55" text-anchor="middle" font-weight="normal" font-style="normal" fill="#1e1e1e" >Median Survival (95% CL)</text>
<text x="330.80" y="525.60" font-size="5.55" text-anchor="end" font-weight="normal" font-style="normal" fill="#1e1e1e" >&#8804; 120</text>
<text x="356.90" y="525.60" font-size="5.55" text-anchor="middle" font-weight="normal" font-style="normal" fill="#1e1e1e" >14</text>
<text x="397.30" y="525.60" font-size="5.55" text-anchor="middle" font-weight="normal" font-style="normal" fill="#1e1e1e" >78.6% (11)</text>
<text x="431.90" y="525.60" font-size="5.55" text-anchor="middle" font-weight="normal" font-style="normal" fill="#1e1e1e" >21.4% (3)</text>
<text x="481.50" y="525.60" font-size="5.55" text-anchor="middle" font-weight="normal" font-style="normal" fill="#1e1e1e" >11.8 (3.4; NA)</text>
<text x="330.80" y="533.60" font-size="5.55" text-anchor="end" font-weight="normal" font-style="normal" fill="#1e1e1e" >&gt; 120</text>
<text x="356.90" y="533.60" font-size="5.55" text-anchor="middle" font-weight="normal" font-style="normal" fill="#1e1e1e" >26</text>
<text x="397.30" y="533.60" font-size="5.55" text-anchor="middle" font-weight="normal" font-style="normal" fill="#1e1e1e" >96.2% (25)</text>
<text x="431.90" y="533.60" font-size="5.55" text-anchor="middle" font-weight="normal" font-style="normal" fill="#1e1e1e" >3.8% (1)</text>
<text x="481.50" y="533.60" font-size="5.55" text-anchor="middle" font-weight="normal" font-style="normal" fill="#1e1e1e" >3.2 (2; 4)</text>
<text x="7.30" y="556.20" font-size="12" text-anchor="start" font-weight="bold" font-style="normal" fill="#000" >G</text>
<path d="M57.50,562.00H59.30V590.00H57.50ZM59.30,564.00H72.00V600.00H59.30ZM72.00,570.00H73.10V610.00H72.00ZM73.10,578.00H89.80V630.00H73.10ZM89.80,589.60H133.50V634.80H89.80ZM133.50,596.30H154.40V641.50H133.50ZM154.40,604.70H163.30V645.00H154.40ZM163.30,612.00H167.90V650.00H163.30ZM167.90,622.70H239.40V653.40H167.90Z" fill="rgba(205,16,50,0.2)" stroke="none"/>
<path d="M54.70,562.50H60.40V582.00H54.70ZM60.40,565.00H67.30V595.00H60.40ZM67.30,572.00H73.10V605.00H67.30ZM73.10,577.00H82.90V612.00H73.10ZM82.90,583.00H88.70V620.00H82.90ZM88.70,588.70H98.50V626.00H88.70ZM98.50,596.30H187.60V633.00H98.50ZM187.60,602.00H190.80V640.00H187.60ZM190.80,607.90H228.90V644.00H190.80ZM228.90,620.00H232.00V653.00H228.90Z" fill="rgba(20,90,145,0.22)" stroke="none"/>
<path d="M48.30,562.00H57.50V568.52H59.30V575.14H72.00V581.67H73.10V603.36H89.80V610.71H133.50V619.35H154.40V627.89H163.30V635.52H167.90V645.35H239.40V653.90" fill="none" stroke="#ad3452" stroke-width="1.2" stroke-linejoin="miter"/>
<path d="M48.30,562.00H54.70V566.14H57.50V570.36H58.60V574.50H60.40V578.54H64.50V582.22H66.00V585.89H67.30V586.81H73.10V590.95H82.90V595.08H85.50V599.22H88.70V603.36H95.00V607.95H98.50V613.46H187.60V619.90H190.80V626.33H228.90V640.12H232.00V653.90" fill="none" stroke="#46698a" stroke-width="1.2" stroke-linejoin="miter"/>
<line x1="170.70" y1="612.16" x2="170.70" y2="614.76" stroke="#46698a" stroke-width="0.9"/>
<line x1="201.80" y1="625.03" x2="201.80" y2="627.63" stroke="#46698a" stroke-width="0.9"/>
<line x1="211.50" y1="625.03" x2="211.50" y2="627.63" stroke="#46698a" stroke-width="0.9"/>
<line x1="37.90" y1="559.40" x2="37.90" y2="681.30" stroke="#1a1a1a" stroke-width="1.4"/>
<line x1="34.70" y1="653.90" x2="37.90" y2="653.90" stroke="#1a1a1a" stroke-width="1.0"/>
<text x="31.30" y="656.30" font-size="6.8" text-anchor="end" font-weight="normal" font-style="normal" fill="#1e1e1e" >0.0</text>
<line x1="34.70" y1="635.52" x2="37.90" y2="635.52" stroke="#1a1a1a" stroke-width="1.0"/>
<text x="31.30" y="637.92" font-size="6.8" text-anchor="end" font-weight="normal" font-style="normal" fill="#1e1e1e" >0.2</text>
<line x1="34.70" y1="617.14" x2="37.90" y2="617.14" stroke="#1a1a1a" stroke-width="1.0"/>
<text x="31.30" y="619.54" font-size="6.8" text-anchor="end" font-weight="normal" font-style="normal" fill="#1e1e1e" >0.4</text>
<line x1="34.70" y1="598.76" x2="37.90" y2="598.76" stroke="#1a1a1a" stroke-width="1.0"/>
<text x="31.30" y="601.16" font-size="6.8" text-anchor="end" font-weight="normal" font-style="normal" fill="#1e1e1e" >0.6</text>
<line x1="34.70" y1="580.38" x2="37.90" y2="580.38" stroke="#1a1a1a" stroke-width="1.0"/>
<text x="31.30" y="582.78" font-size="6.8" text-anchor="end" font-weight="normal" font-style="normal" fill="#1e1e1e" >0.8</text>
<line x1="34.70" y1="562.00" x2="37.90" y2="562.00" stroke="#1a1a1a" stroke-width="1.0"/>
<text x="31.30" y="564.40" font-size="6.8" text-anchor="end" font-weight="normal" font-style="normal" fill="#1e1e1e" >1.0</text>
<line x1="34.70" y1="665.40" x2="37.90" y2="665.40" stroke="#1a1a1a" stroke-width="1.0"/>
<text x="31.30" y="667.80" font-size="6.8" text-anchor="end" font-weight="normal" font-style="normal" fill="#1e1e1e" >&lt; 10</text>
<text x="48.50" y="667.80" font-size="6.8" text-anchor="middle" font-weight="normal" font-style="normal" fill="#1e1e1e" >14</text>
<text x="76.64" y="667.80" font-size="6.8" text-anchor="middle" font-weight="normal" font-style="normal" fill="#1e1e1e" >7</text>
<text x="104.78" y="667.80" font-size="6.8" text-anchor="middle" font-weight="normal" font-style="normal" fill="#1e1e1e" >5</text>
<text x="132.92" y="667.80" font-size="6.8" text-anchor="middle" font-weight="normal" font-style="normal" fill="#1e1e1e" >5</text>
<text x="161.06" y="667.80" font-size="6.8" text-anchor="middle" font-weight="normal" font-style="normal" fill="#1e1e1e" >3</text>
<text x="189.20" y="667.80" font-size="6.8" text-anchor="middle" font-weight="normal" font-style="normal" fill="#1e1e1e" >1</text>
<text x="217.34" y="667.80" font-size="6.8" text-anchor="middle" font-weight="normal" font-style="normal" fill="#1e1e1e" >1</text>
<text x="245.48" y="667.80" font-size="6.8" text-anchor="middle" font-weight="normal" font-style="normal" fill="#1e1e1e" >0</text>
<line x1="34.70" y1="674.90" x2="37.90" y2="674.90" stroke="#1a1a1a" stroke-width="1.0"/>
<text x="31.30" y="677.30" font-size="6.8" text-anchor="end" font-weight="normal" font-style="normal" fill="#1e1e1e" >&#8805; 10</text>
<text x="48.50" y="677.30" font-size="6.8" text-anchor="middle" font-weight="normal" font-style="normal" fill="#1e1e1e" >22</text>
<text x="76.64" y="677.30" font-size="6.8" text-anchor="middle" font-weight="normal" font-style="normal" fill="#1e1e1e" >14</text>
<text x="104.78" y="677.30" font-size="6.8" text-anchor="middle" font-weight="normal" font-style="normal" fill="#1e1e1e" >8</text>
<text x="132.92" y="677.30" font-size="6.8" text-anchor="middle" font-weight="normal" font-style="normal" fill="#1e1e1e" >7</text>
<text x="161.06" y="677.30" font-size="6.8" text-anchor="middle" font-weight="normal" font-style="normal" fill="#1e1e1e" >7</text>
<text x="189.20" y="677.30" font-size="6.8" text-anchor="middle" font-weight="normal" font-style="normal" fill="#1e1e1e" >5</text>
<text x="217.34" y="677.30" font-size="6.8" text-anchor="middle" font-weight="normal" font-style="normal" fill="#1e1e1e" >2</text>
<text x="245.48" y="677.30" font-size="6.8" text-anchor="middle" font-weight="normal" font-style="normal" fill="#1e1e1e" >0</text>
<line x1="37.20" y1="680.70" x2="247.60" y2="680.70" stroke="#1a1a1a" stroke-width="1.4"/>
<line x1="48.50" y1="680.70" x2="48.50" y2="684.10" stroke="#1a1a1a" stroke-width="1.0"/>
<text x="48.50" y="693.30" font-size="6.8" text-anchor="middle" font-weight="normal" font-style="normal" fill="#1e1e1e" >0</text>
<line x1="76.64" y1="680.70" x2="76.64" y2="684.10" stroke="#1a1a1a" stroke-width="1.0"/>
<text x="76.64" y="693.30" font-size="6.8" text-anchor="middle" font-weight="normal" font-style="normal" fill="#1e1e1e" >6</text>
<line x1="104.78" y1="680.70" x2="104.78" y2="684.10" stroke="#1a1a1a" stroke-width="1.0"/>
<text x="104.78" y="693.30" font-size="6.8" text-anchor="middle" font-weight="normal" font-style="normal" fill="#1e1e1e" >12</text>
<line x1="132.92" y1="680.70" x2="132.92" y2="684.10" stroke="#1a1a1a" stroke-width="1.0"/>
<text x="132.92" y="693.30" font-size="6.8" text-anchor="middle" font-weight="normal" font-style="normal" fill="#1e1e1e" >18</text>
<line x1="161.06" y1="680.70" x2="161.06" y2="684.10" stroke="#1a1a1a" stroke-width="1.0"/>
<text x="161.06" y="693.30" font-size="6.8" text-anchor="middle" font-weight="normal" font-style="normal" fill="#1e1e1e" >24</text>
<line x1="189.20" y1="680.70" x2="189.20" y2="684.10" stroke="#1a1a1a" stroke-width="1.0"/>
<text x="189.20" y="693.30" font-size="6.8" text-anchor="middle" font-weight="normal" font-style="normal" fill="#1e1e1e" >30</text>
<line x1="217.34" y1="680.70" x2="217.34" y2="684.10" stroke="#1a1a1a" stroke-width="1.0"/>
<text x="217.34" y="693.30" font-size="6.8" text-anchor="middle" font-weight="normal" font-style="normal" fill="#1e1e1e" >36</text>
<line x1="245.48" y1="680.70" x2="245.48" y2="684.10" stroke="#1a1a1a" stroke-width="1.0"/>
<text x="245.48" y="693.30" font-size="6.8" text-anchor="middle" font-weight="normal" font-style="normal" fill="#1e1e1e" >42</text>
<text x="143.00" y="705.60" font-size="9.3" font-weight="bold" text-anchor="middle" fill="#2a2a2a" textLength="35.6" lengthAdjust="spacingAndGlyphs">OS (months)</text>
<text transform="translate(15.40,620.00) rotate(-90)" x="0" y="0" font-size="8.9" font-weight="normal" text-anchor="middle" fill="#333" stroke="#333" stroke-width="0.25" textLength="52.5" lengthAdjust="spacingAndGlyphs">Survival probability</text>
<text x="229.40" y="565.10" font-size="6.7" text-anchor="middle" font-weight="normal" font-style="normal" fill="#1e1e1e" >+ Censored</text>
<text x="229.40" y="573.80" font-size="6.7" fill="#1e1e1e" text-anchor="middle"><tspan font-style="italic">Pcorr</tspan> = .99</text>
<line x1="41.70" y1="643.20" x2="53.00" y2="643.20" stroke="#b54a68" stroke-width="1.4"/>
<line x1="41.70" y1="651.20" x2="53.00" y2="651.20" stroke="#3a8078" stroke-width="1.4"/>
<text x="55.80" y="645.60" font-size="6.8" text-anchor="start" font-weight="normal" font-style="normal" fill="#1e1e1e" >&lt; 10</text>
<text x="55.80" y="653.60" font-size="6.8" text-anchor="start" font-weight="normal" font-style="normal" fill="#1e1e1e" >&#8805; 10</text>
<text x="92.40" y="717.50" font-size="5.55" text-anchor="middle" font-weight="normal" font-style="normal" fill="#1e1e1e" >No. of Subjects</text>
<text x="132.80" y="717.50" font-size="5.55" text-anchor="middle" font-weight="normal" font-style="normal" fill="#1e1e1e" >Event</text>
<text x="167.40" y="717.50" font-size="5.55" text-anchor="middle" font-weight="normal" font-style="normal" fill="#1e1e1e" >Censored</text>
<text x="217.00" y="717.50" font-size="5.55" text-anchor="middle" font-weight="normal" font-style="normal" fill="#1e1e1e" >Median Survival (95% CL)</text>
<text x="66.30" y="726.00" font-size="5.55" text-anchor="end" font-weight="normal" font-style="normal" fill="#1e1e1e" >&lt; 10</text>
<text x="92.40" y="726.00" font-size="5.55" text-anchor="middle" font-weight="normal" font-style="normal" fill="#1e1e1e" >14</text>
<text x="132.80" y="726.00" font-size="5.55" text-anchor="middle" font-weight="normal" font-style="normal" fill="#1e1e1e" >85.7% (12)</text>
<text x="167.40" y="726.00" font-size="5.55" text-anchor="middle" font-weight="normal" font-style="normal" fill="#1e1e1e" >14.3% (2)</text>
<text x="217.00" y="726.00" font-size="5.55" text-anchor="middle" font-weight="normal" font-style="normal" fill="#1e1e1e" >9 (5; 24.8)</text>
<text x="66.30" y="734.00" font-size="5.55" text-anchor="end" font-weight="normal" font-style="normal" fill="#1e1e1e" >&#8805; 10</text>
<text x="92.40" y="734.00" font-size="5.55" text-anchor="middle" font-weight="normal" font-style="normal" fill="#1e1e1e" >22</text>
<text x="132.80" y="734.00" font-size="5.55" text-anchor="middle" font-weight="normal" font-style="normal" fill="#1e1e1e" >72.7% (16)</text>
<text x="167.40" y="734.00" font-size="5.55" text-anchor="middle" font-weight="normal" font-style="normal" fill="#1e1e1e" >27.3% (6)</text>
<text x="217.00" y="734.00" font-size="5.55" text-anchor="middle" font-weight="normal" font-style="normal" fill="#1e1e1e" >10.1 (4.1; 38.4)</text>
<text x="271.80" y="556.20" font-size="12" text-anchor="start" font-weight="bold" font-style="normal" fill="#000" >H</text>
<path d="M331.50,563.00H335.50V590.00H331.50ZM335.50,566.00H337.80V600.00H335.50ZM337.80,569.40H427.00V610.40H337.80ZM427.00,574.00H431.50V618.00H427.00ZM431.50,579.30H451.40V626.30H431.50ZM451.40,585.00H453.50V632.00H451.40ZM453.50,591.00H495.20V638.60H453.50ZM495.20,601.50H503.20V650.20H495.20Z" fill="rgba(205,16,50,0.2)" stroke="none"/>
<path d="M319.20,562.50H323.00V580.00H319.20ZM323.00,565.00H327.00V590.00H323.00ZM327.00,569.00H331.00V598.00H327.00ZM331.00,575.00H334.00V605.00H331.00ZM334.00,580.00H337.80V612.00H334.00ZM337.80,584.00H344.00V621.00H337.80ZM344.00,590.00H350.00V626.00H344.00ZM350.00,595.00H356.00V631.00H350.00ZM356.00,600.00H362.00V636.00H356.00ZM362.00,607.00H366.00V640.00H362.00ZM366.00,612.00H369.00V643.00H366.00ZM369.00,617.60H397.70V645.40H369.00ZM397.70,622.90H417.90V647.00H397.70ZM417.90,628.20H492.00V651.30H417.90Z" fill="rgba(20,90,145,0.22)" stroke="none"/>
<path d="M313.60,562.00H331.50V568.52H335.50V575.14H337.80V581.67H427.10V588.65H431.70V597.20H451.40V605.65H453.50V613.56H495.20V634.14H503.20V653.90" fill="none" stroke="#ad3452" stroke-width="1.2" stroke-linejoin="miter"/>
<path d="M313.60,562.00H319.20V565.49H321.10V569.08H322.40V572.57H323.60V576.15H326.00V579.64H328.00V583.23H330.00V586.72H332.00V590.49H337.80V601.98H347.40V606.11H350.30V609.79H353.20V613.46H356.10V617.14H359.00V620.82H361.90V624.49H364.80V628.17H368.60V634.14H397.40V638.64H418.60V644.16H492.00V653.90" fill="none" stroke="#46698a" stroke-width="1.2" stroke-linejoin="miter"/>
<line x1="363.20" y1="580.37" x2="363.20" y2="582.97" stroke="#ad3452" stroke-width="0.9"/>
<line x1="466.60" y1="612.26" x2="466.60" y2="614.86" stroke="#ad3452" stroke-width="0.9"/>
<line x1="475.50" y1="612.26" x2="475.50" y2="614.86" stroke="#ad3452" stroke-width="0.9"/>
<line x1="387.20" y1="632.84" x2="387.20" y2="635.44" stroke="#46698a" stroke-width="0.9"/>
<line x1="433.80" y1="642.86" x2="433.80" y2="645.46" stroke="#46698a" stroke-width="0.9"/>
<line x1="302.40" y1="559.40" x2="302.40" y2="681.30" stroke="#1a1a1a" stroke-width="1.4"/>
<line x1="299.20" y1="653.90" x2="302.40" y2="653.90" stroke="#1a1a1a" stroke-width="1.0"/>
<text x="295.80" y="656.30" font-size="6.8" text-anchor="end" font-weight="normal" font-style="normal" fill="#1e1e1e" >0.0</text>
<line x1="299.20" y1="635.52" x2="302.40" y2="635.52" stroke="#1a1a1a" stroke-width="1.0"/>
<text x="295.80" y="637.92" font-size="6.8" text-anchor="end" font-weight="normal" font-style="normal" fill="#1e1e1e" >0.2</text>
<line x1="299.20" y1="617.14" x2="302.40" y2="617.14" stroke="#1a1a1a" stroke-width="1.0"/>
<text x="295.80" y="619.54" font-size="6.8" text-anchor="end" font-weight="normal" font-style="normal" fill="#1e1e1e" >0.4</text>
<line x1="299.20" y1="598.76" x2="302.40" y2="598.76" stroke="#1a1a1a" stroke-width="1.0"/>
<text x="295.80" y="601.16" font-size="6.8" text-anchor="end" font-weight="normal" font-style="normal" fill="#1e1e1e" >0.6</text>
<line x1="299.20" y1="580.38" x2="302.40" y2="580.38" stroke="#1a1a1a" stroke-width="1.0"/>
<text x="295.80" y="582.78" font-size="6.8" text-anchor="end" font-weight="normal" font-style="normal" fill="#1e1e1e" >0.8</text>
<line x1="299.20" y1="562.00" x2="302.40" y2="562.00" stroke="#1a1a1a" stroke-width="1.0"/>
<text x="295.80" y="564.40" font-size="6.8" text-anchor="end" font-weight="normal" font-style="normal" fill="#1e1e1e" >1.0</text>
<line x1="299.20" y1="665.40" x2="302.40" y2="665.40" stroke="#1a1a1a" stroke-width="1.0"/>
<text x="295.80" y="667.80" font-size="6.8" text-anchor="end" font-weight="normal" font-style="normal" fill="#1e1e1e" >&#8804; 120</text>
<text x="313.00" y="667.80" font-size="6.8" text-anchor="middle" font-weight="normal" font-style="normal" fill="#1e1e1e" >14</text>
<text x="341.14" y="667.80" font-size="6.8" text-anchor="middle" font-weight="normal" font-style="normal" fill="#1e1e1e" >11</text>
<text x="369.28" y="667.80" font-size="6.8" text-anchor="middle" font-weight="normal" font-style="normal" fill="#1e1e1e" >9</text>
<text x="397.42" y="667.80" font-size="6.8" text-anchor="middle" font-weight="normal" font-style="normal" fill="#1e1e1e" >9</text>
<text x="425.56" y="667.80" font-size="6.8" text-anchor="middle" font-weight="normal" font-style="normal" fill="#1e1e1e" >9</text>
<text x="453.70" y="667.80" font-size="6.8" text-anchor="middle" font-weight="normal" font-style="normal" fill="#1e1e1e" >6</text>
<text x="481.84" y="667.80" font-size="6.8" text-anchor="middle" font-weight="normal" font-style="normal" fill="#1e1e1e" >2</text>
<text x="509.98" y="667.80" font-size="6.8" text-anchor="middle" font-weight="normal" font-style="normal" fill="#1e1e1e" >0</text>
<line x1="299.20" y1="674.90" x2="302.40" y2="674.90" stroke="#1a1a1a" stroke-width="1.0"/>
<text x="295.80" y="677.30" font-size="6.8" text-anchor="end" font-weight="normal" font-style="normal" fill="#1e1e1e" >&gt; 120</text>
<text x="313.00" y="677.30" font-size="6.8" text-anchor="middle" font-weight="normal" font-style="normal" fill="#1e1e1e" >26</text>
<text x="341.14" y="677.30" font-size="6.8" text-anchor="middle" font-weight="normal" font-style="normal" fill="#1e1e1e" >13</text>
<text x="369.28" y="677.30" font-size="6.8" text-anchor="middle" font-weight="normal" font-style="normal" fill="#1e1e1e" >5</text>
<text x="397.42" y="677.30" font-size="6.8" text-anchor="middle" font-weight="normal" font-style="normal" fill="#1e1e1e" >4</text>
<text x="425.56" y="677.30" font-size="6.8" text-anchor="middle" font-weight="normal" font-style="normal" fill="#1e1e1e" >2</text>
<text x="453.70" y="677.30" font-size="6.8" text-anchor="middle" font-weight="normal" font-style="normal" fill="#1e1e1e" >1</text>
<text x="481.84" y="677.30" font-size="6.8" text-anchor="middle" font-weight="normal" font-style="normal" fill="#1e1e1e" >1</text>
<text x="509.98" y="677.30" font-size="6.8" text-anchor="middle" font-weight="normal" font-style="normal" fill="#1e1e1e" >0</text>
<line x1="301.70" y1="680.70" x2="512.10" y2="680.70" stroke="#1a1a1a" stroke-width="1.4"/>
<line x1="313.00" y1="680.70" x2="313.00" y2="684.10" stroke="#1a1a1a" stroke-width="1.0"/>
<text x="313.00" y="693.30" font-size="6.8" text-anchor="middle" font-weight="normal" font-style="normal" fill="#1e1e1e" >0</text>
<line x1="341.14" y1="680.70" x2="341.14" y2="684.10" stroke="#1a1a1a" stroke-width="1.0"/>
<text x="341.14" y="693.30" font-size="6.8" text-anchor="middle" font-weight="normal" font-style="normal" fill="#1e1e1e" >6</text>
<line x1="369.28" y1="680.70" x2="369.28" y2="684.10" stroke="#1a1a1a" stroke-width="1.0"/>
<text x="369.28" y="693.30" font-size="6.8" text-anchor="middle" font-weight="normal" font-style="normal" fill="#1e1e1e" >12</text>
<line x1="397.42" y1="680.70" x2="397.42" y2="684.10" stroke="#1a1a1a" stroke-width="1.0"/>
<text x="397.42" y="693.30" font-size="6.8" text-anchor="middle" font-weight="normal" font-style="normal" fill="#1e1e1e" >18</text>
<line x1="425.56" y1="680.70" x2="425.56" y2="684.10" stroke="#1a1a1a" stroke-width="1.0"/>
<text x="425.56" y="693.30" font-size="6.8" text-anchor="middle" font-weight="normal" font-style="normal" fill="#1e1e1e" >24</text>
<line x1="453.70" y1="680.70" x2="453.70" y2="684.10" stroke="#1a1a1a" stroke-width="1.0"/>
<text x="453.70" y="693.30" font-size="6.8" text-anchor="middle" font-weight="normal" font-style="normal" fill="#1e1e1e" >30</text>
<line x1="481.84" y1="680.70" x2="481.84" y2="684.10" stroke="#1a1a1a" stroke-width="1.0"/>
<text x="481.84" y="693.30" font-size="6.8" text-anchor="middle" font-weight="normal" font-style="normal" fill="#1e1e1e" >36</text>
<line x1="509.98" y1="680.70" x2="509.98" y2="684.10" stroke="#1a1a1a" stroke-width="1.0"/>
<text x="509.98" y="693.30" font-size="6.8" text-anchor="middle" font-weight="normal" font-style="normal" fill="#1e1e1e" >42</text>
<text x="407.50" y="705.60" font-size="9.3" font-weight="bold" text-anchor="middle" fill="#2a2a2a" textLength="35.6" lengthAdjust="spacingAndGlyphs">OS (months)</text>
<text transform="translate(279.90,620.00) rotate(-90)" x="0" y="0" font-size="8.9" font-weight="normal" text-anchor="middle" fill="#333" stroke="#333" stroke-width="0.25" textLength="52.5" lengthAdjust="spacingAndGlyphs">Survival probability</text>
<text x="493.90" y="565.10" font-size="6.7" text-anchor="middle" font-weight="normal" font-style="normal" fill="#1e1e1e" >+ Censored</text>
<text x="493.90" y="573.80" font-size="6.7" fill="#1e1e1e" text-anchor="middle"><tspan font-style="italic">Pcorr</tspan> = .012</text>
<line x1="306.20" y1="643.90" x2="317.90" y2="643.90" stroke="#b8707e" stroke-width="1.4"/>
<line x1="306.20" y1="651.70" x2="317.90" y2="651.70" stroke="#2a5a85" stroke-width="1.0"/>
<text x="320.80" y="646.00" font-size="6.0" text-anchor="start" font-weight="normal" font-style="normal" fill="#1e1e1e" >&#8804; 120</text>
<text x="320.80" y="653.80" font-size="6.0" text-anchor="start" font-weight="normal" font-style="normal" fill="#1e1e1e" >&gt; 120</text>
<text x="356.90" y="717.50" font-size="5.55" text-anchor="middle" font-weight="normal" font-style="normal" fill="#1e1e1e" >No. of Subjects</text>
<text x="397.30" y="717.50" font-size="5.55" text-anchor="middle" font-weight="normal" font-style="normal" fill="#1e1e1e" >Event</text>
<text x="431.90" y="717.50" font-size="5.55" text-anchor="middle" font-weight="normal" font-style="normal" fill="#1e1e1e" >Censored</text>
<text x="481.50" y="717.50" font-size="5.55" text-anchor="middle" font-weight="normal" font-style="normal" fill="#1e1e1e" >Median Survival (95% CL)</text>
<text x="330.80" y="726.00" font-size="5.55" text-anchor="end" font-weight="normal" font-style="normal" fill="#1e1e1e" >&#8804; 120</text>
<text x="356.90" y="726.00" font-size="5.55" text-anchor="middle" font-weight="normal" font-style="normal" fill="#1e1e1e" >14</text>
<text x="397.30" y="726.00" font-size="5.55" text-anchor="middle" font-weight="normal" font-style="normal" fill="#1e1e1e" >64.3% (9)</text>
<text x="431.90" y="726.00" font-size="5.55" text-anchor="middle" font-weight="normal" font-style="normal" fill="#1e1e1e" >35.7% (5)</text>
<text x="481.50" y="726.00" font-size="5.55" text-anchor="middle" font-weight="normal" font-style="normal" fill="#1e1e1e" >30.3 (5.4; NA)</text>
<text x="330.80" y="734.00" font-size="5.55" text-anchor="end" font-weight="normal" font-style="normal" fill="#1e1e1e" >&gt; 120</text>
<text x="356.90" y="734.00" font-size="5.55" text-anchor="middle" font-weight="normal" font-style="normal" fill="#1e1e1e" >26</text>
<text x="397.30" y="734.00" font-size="5.55" text-anchor="middle" font-weight="normal" font-style="normal" fill="#1e1e1e" >84.6% (22)</text>
<text x="431.90" y="734.00" font-size="5.55" text-anchor="middle" font-weight="normal" font-style="normal" fill="#1e1e1e" >15.4% (4)</text>
<text x="481.50" y="734.00" font-size="5.55" text-anchor="middle" font-weight="normal" font-style="normal" fill="#1e1e1e" >8 (4.1; 10.8)</text>
<rect x="0.5" y="0.5" width="519" height="741" fill="none" stroke="#6a6a6a" stroke-width="1"/>
</svg>
</body></html>
